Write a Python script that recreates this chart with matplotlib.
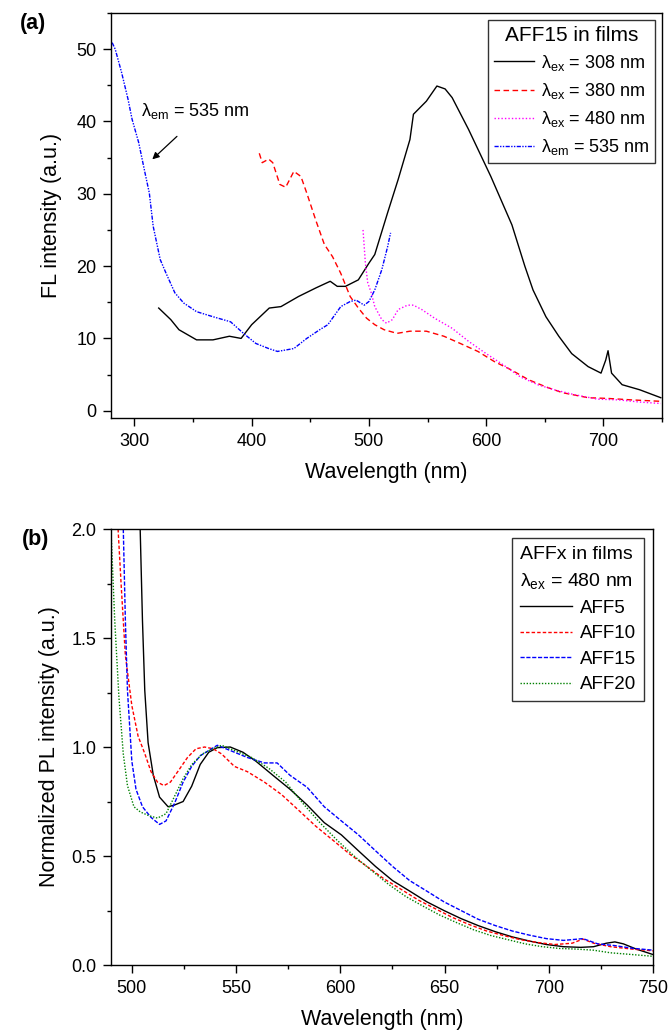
import matplotlib.pyplot as plt
from matplotlib.ticker import MultipleLocator

plt.rcParams['font.family'] = ['Liberation Sans', 'DejaVu Sans']
plt.rcParams['mathtext.fontset'] = 'custom'
plt.rcParams['mathtext.rm'] = 'Liberation Sans'
plt.rcParams['mathtext.it'] = 'Liberation Sans:italic'

# ---- panel (a): AFF15 in films ----
wl_308 = [320.7, 331, 338, 353, 367, 381, 391, 400, 415, 425, 440, 455, 467, 473,
          480, 491, 500, 505, 516, 525, 535, 538, 549, 558, 565, 571, 585, 604,
          622, 633, 640, 651, 662, 673, 687, 698, 702, 704, 707, 716, 731, 749]
fl_308 = [14.2, 12.6, 11.2, 9.8, 9.8, 10.3, 10.0, 11.9, 14.2, 14.4, 15.8, 17.0, 17.9, 17.2,
          17.2, 18.1, 20.4, 21.6, 27.4, 32.0, 37.5, 41.0, 42.8, 44.9, 44.5, 43.3, 38.9, 32.4,
          25.7, 20.0, 16.7, 13.0, 10.3, 7.9, 6.1, 5.2, 7.0, 8.3, 5.2, 3.6, 2.9, 1.8]

wl_380 = [406.5, 409, 414.5, 418, 424, 429, 436, 442, 447, 455, 462, 469, 476, 484,
          491, 498, 505, 513, 524, 535, 549, 564, 578, 593, 607, 622, 636, 651,
          665, 687, 704, 724, 749]
fl_380 = [35.6, 34.3, 34.8, 34.3, 31.3, 30.9, 33.1, 32.4, 30.1, 26.2, 23.0, 21.3, 19.0, 15.8,
          14.2, 12.8, 11.9, 11.2, 10.7, 11.0, 11.0, 10.3, 9.3, 8.2, 6.8, 5.6, 4.3, 3.3,
          2.5, 1.8, 1.7, 1.5, 1.3]

wl_480 = [495, 497, 499, 502, 505, 511, 515, 520, 525, 533, 538, 545, 556, 571,
          585, 600, 615, 629, 644, 658, 676, 695, 713, 731, 749]
fl_480 = [25.0, 20.4, 17.7, 16.3, 14.4, 12.6, 12.1, 12.6, 14.0, 14.6, 14.6, 14.0, 12.8, 11.4,
          9.6, 7.9, 6.3, 4.7, 3.6, 2.9, 2.2, 1.6, 1.5, 1.2, 1.0]

wl_em = [281, 283.6, 289, 294.5, 298, 303.6, 309, 312.7, 316, 322, 327, 334.5, 342, 353,
         367, 382, 393, 403.6, 414.5, 422, 436, 447, 458, 465, 476, 484, 489, 496,
         500, 505, 511, 516, 518.5]
fl_em = [50.9, 50.0, 46.8, 43.1, 40.3, 37.1, 32.9, 30.1, 25.5, 20.9, 19.0, 16.3, 14.9, 13.7,
         13.0, 12.3, 10.7, 9.3, 8.6, 8.2, 8.6, 10.0, 11.2, 11.9, 14.4, 15.1, 15.3, 14.6,
         15.1, 16.7, 19.5, 22.7, 24.6]

# ---- panel (b): AFFx in films, normalized ----
wl_aff5 = [504, 505.1, 506.2, 507.8, 510.3, 513.3, 517.4, 520.5, 524.6, 528.7, 532.8, 536.9,
           541, 547.2, 553.3, 559.5, 567.7, 575.9, 584.1, 592.3, 600.5, 608.7, 616.9, 625.1,
           633.3, 641.5, 649.7, 657.9, 666.1, 674.3, 682.5, 690.7, 698.9, 707.1, 715.3,
           721.5, 727.6, 731.7, 735.8, 742, 750]
pl_aff5 = [2.0, 1.58, 1.26, 1.02, 0.87, 0.77, 0.726, 0.734, 0.75, 0.82, 0.92, 0.976,
           0.997, 1.0, 0.976, 0.935, 0.87, 0.806, 0.734, 0.653, 0.597, 0.524, 0.452, 0.387,
           0.339, 0.29, 0.25, 0.213, 0.181, 0.153, 0.129, 0.11, 0.094, 0.084, 0.081,
           0.084, 0.10, 0.106, 0.097, 0.073, 0.048]

wl_aff10 = [493.4, 494.9, 496.9, 500, 503, 506.2, 509.2, 512.3, 515.4, 518.5, 522.6, 526.7,
            530.8, 534.9, 539, 543.1, 549.2, 555.4, 563.6, 571.8, 580, 588.2, 596.4, 604.6,
            612.8, 621, 629.2, 637.4, 645.6, 653.8, 662, 670.2, 678.4, 686.6, 694.8, 703,
            711.2, 716.4, 721.5, 729.7, 740, 750]
pl_aff10 = [2.0, 1.74, 1.42, 1.19, 1.05, 0.97, 0.887, 0.839, 0.823, 0.839, 0.895, 0.952,
            0.992, 1.0, 0.992, 0.968, 0.911, 0.887, 0.839, 0.782, 0.71, 0.637, 0.573, 0.508,
            0.452, 0.395, 0.347, 0.298, 0.258, 0.218, 0.185, 0.156, 0.135, 0.116, 0.103, 0.094,
            0.10, 0.119, 0.10, 0.084, 0.073, 0.065]

wl_aff15 = [495.9, 496.9, 497.9, 500, 502, 505.1, 509.2, 513.3, 516.4, 520.5, 524.6, 528.7,
            532.8, 536.9, 541, 547.2, 555.4, 563.6, 569.7, 575.9, 584.1, 592.3, 600.5, 608.7,
            616.9, 625.1, 633.3, 641.5, 649.7, 657.9, 666.1, 674.3, 682.5, 690.7, 698.9,
            707.1, 716.4, 723.5, 731.7, 740, 750]
pl_aff15 = [2.0, 1.58, 1.26, 0.935, 0.806, 0.726, 0.677, 0.645, 0.661, 0.742, 0.839, 0.911,
            0.96, 0.984, 1.008, 0.984, 0.952, 0.927, 0.927, 0.87, 0.815, 0.726, 0.661, 0.597,
            0.524, 0.452, 0.387, 0.339, 0.29, 0.25, 0.21, 0.181, 0.156, 0.137, 0.121,
            0.113, 0.121, 0.097, 0.089, 0.077, 0.068]

wl_aff20 = [490.2, 491.8, 493.8, 495.9, 497.9, 501, 504.1, 508.2, 512.3, 516.4, 520.5, 524.6,
            528.7, 533.8, 539, 543.1, 549.2, 557.4, 565.6, 573.8, 582, 590.2, 598.4, 606.6,
            614.8, 623, 631.3, 639.5, 647.7, 655.9, 664.1, 672.3, 680.5, 688.7, 696.9,
            705.1, 713.3, 721.5, 729.7, 740, 750]
pl_aff20 = [1.95, 1.58, 1.23, 0.968, 0.823, 0.726, 0.702, 0.685, 0.674, 0.694, 0.774, 0.855,
            0.919, 0.968, 0.992, 1.008, 0.984, 0.952, 0.903, 0.839, 0.742, 0.653, 0.573, 0.5,
            0.435, 0.371, 0.315, 0.271, 0.229, 0.194, 0.161, 0.135, 0.116, 0.097, 0.084,
            0.076, 0.073, 0.068, 0.056, 0.048, 0.04]


def style_axes(ax):
    for s in ax.spines.values():
        s.set_linewidth(1.0)
    ax.tick_params(which='major', direction='out', length=6, width=1, labelsize=13,
                   pad=4.5, top=False, right=False)
    ax.tick_params(which='minor', direction='out', length=3, width=1,
                   top=False, right=False)


fig = plt.figure(figsize=(6.69, 10.31), dpi=100)
ax1 = fig.add_axes([0.1659, 0.5946, 0.8236, 0.3928])
ax2 = fig.add_axes([0.1659, 0.0640, 0.8102, 0.4229])

ax1.plot(wl_308, fl_308, color='black', lw=1.0, ls='-', label='λ$_{\\rm ex}$ = 308 nm')
ax1.plot(wl_380, fl_380, color='#ff0000', lw=1.0, ls=(0, (4, 2.5)), label='λ$_{\\rm ex}$ = 380 nm')
ax1.plot(wl_480, fl_480, color='#ff00ff', lw=1.0, ls=(0, (1, 1.5)), label='λ$_{\\rm ex}$ = 480 nm')
ax1.plot(wl_em, fl_em, color='#0000ff', lw=1.0, ls=(0, (3, 1, 1, 1, 1, 1)), label='λ$_{\\rm em}$ = 535 nm')
ax1.set_xlim(280, 750)
ax1.set_ylim(-1, 55)
ax1.xaxis.set_major_locator(MultipleLocator(100))
ax1.xaxis.set_minor_locator(MultipleLocator(50))
ax1.yaxis.set_major_locator(MultipleLocator(10))
ax1.yaxis.set_minor_locator(MultipleLocator(5))
style_axes(ax1)
ax1.set_xlabel('Wavelength (nm)', fontsize=15.5, labelpad=9)
ax1.set_ylabel('FL intensity (a.u.)', fontsize=15.5, labelpad=10)
ax1.annotate('', xy=(313.5, 34.5), xytext=(338, 38.2),
             arrowprops=dict(arrowstyle='-|>', color='black', lw=0.9, mutation_scale=10))
ax1.text(305.5, 41.4, 'λ$_{\\rm em}$ = 535 nm', fontsize=13, va='center', ha='left')
leg1 = ax1.legend(title='AFF15 in films', loc='upper right', fontsize=13,
                  title_fontsize=15, frameon=True, fancybox=False, edgecolor='black',
                  handlelength=2.2, handletextpad=0.4, labelspacing=0.45,
                  borderpad=0.3, borderaxespad=0.4)
leg1.get_frame().set_linewidth(1.0)
ax1.text(-0.165, 1.0, '(a)', transform=ax1.transAxes, fontsize=15.5, fontweight='bold',
         va='top', ha='left')

ax2.plot(wl_aff5, pl_aff5, color='black', lw=1.0, ls='-', label='AFF5')
ax2.plot(wl_aff10, pl_aff10, color='#ff0000', lw=1.0, ls=(0, (2.5, 1.5)), label='AFF10')
ax2.plot(wl_aff15, pl_aff15, color='#0000ff', lw=1.0, ls=(0, (3, 1.2)), label='AFF15')
ax2.plot(wl_aff20, pl_aff20, color='#008000', lw=1.0, ls=(0, (1, 1.2)), label='AFF20')
ax2.set_xlim(490, 750)
ax2.set_ylim(0, 2.0)
ax2.xaxis.set_major_locator(MultipleLocator(50))
ax2.xaxis.set_minor_locator(MultipleLocator(25))
ax2.yaxis.set_major_locator(MultipleLocator(0.5))
ax2.yaxis.set_minor_locator(MultipleLocator(0.25))
ax2.yaxis.set_major_formatter(plt.FormatStrFormatter('%.1f'))
style_axes(ax2)
ax2.set_xlabel('Wavelength (nm)', fontsize=15.5, labelpad=9)
ax2.set_ylabel('Normalized PL intensity (a.u.)', fontsize=15.5, labelpad=8)
leg2 = ax2.legend(title='AFFx in films\nλ$_{\\rm ex}$ = 480 nm', loc='upper right',
                  fontsize=13.5, title_fontsize=14, frameon=True, fancybox=False,
                  edgecolor='black', handlelength=2.8, handletextpad=0.4, labelspacing=0.45,
                  borderpad=0.4, borderaxespad=0.5, alignment='left')
leg2.get_title().set_linespacing(1.55)
leg2.get_frame().set_linewidth(1.0)
ax2.text(-0.165, 1.0, '(b)', transform=ax2.transAxes, fontsize=15.5, fontweight='bold',
         va='top', ha='left')

fig.savefig('out.png', dpi=100)
